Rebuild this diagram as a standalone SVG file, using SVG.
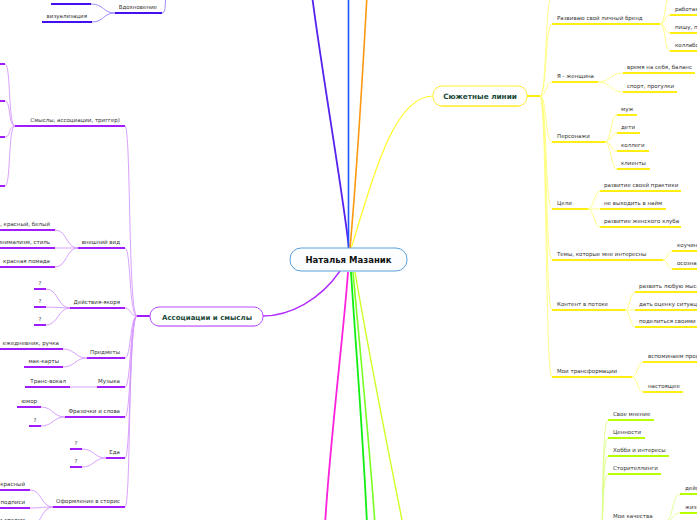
<svg xmlns="http://www.w3.org/2000/svg" width="697" height="520" viewBox="0 0 697 520">
<style>
.t{font-family:"DejaVu Sans",Verdana,sans-serif;font-size:5.5px;fill:#333}
.e{text-anchor:end}
.m{text-anchor:middle}
.h{font-family:"DejaVu Sans",Verdana,sans-serif;font-weight:bold;fill:#1c4a3a;text-anchor:middle}
.c{fill:none;stroke-width:0.9}
.u{fill:none;stroke-width:2}
.cv{stroke:#d596ff}.uv{stroke:#a01cff}
.cy{stroke:#ffff7a}.uy{stroke:#ffee11}
.cg{stroke:#ddff88}.ug{stroke:#b8ff00}
.ci{stroke:#8f7fff}.ui{stroke:#4411ee}
.main{fill:none}
</style>
<rect width="697" height="520" fill="#fff"/>
<g id="connectors">
<path class="main" d="M349,249 C344,200 320,60 312,-5" stroke="#5522ee" stroke-width="1.8"/>
<path class="main" d="M348.5,249 L348.5,-5" stroke="#2255ff" stroke-width="1.6"/>
<path class="main" d="M350,249 C356,180 364,50 367,-5" stroke="#ff9911" stroke-width="1.6"/>
<path class="main" d="M351,249 C375,170 395,96 433,96" stroke="#ffff22" stroke-width="1.2"/>
<path class="main" d="M340,271 C320,300 290,316 263,316" stroke="#b22cff" stroke-width="1.4"/>
<path class="main" d="M348,272 C344,330 330,440 325,525" stroke="#ff22dd" stroke-width="1.8"/>
<path class="main" d="M351,272 C356,350 364,450 367,525" stroke="#11ee11" stroke-width="1.8"/>
<path class="main" d="M353,272 C360,350 370,450 375,525" stroke="#77ff22" stroke-width="1.6"/>
<path class="main" d="M355,272 C370,360 390,460 403,525" stroke="#ccff22" stroke-width="1.4"/>
<!-- Вдохновение -->
<path class="c ci" d="M162,13 C167,13 164,0 167,-8"/>
<path class="c ci" d="M115,13 C103,13 104,22 92,22"/>
<path class="c ci" d="M115,13 C103,13 104,4 91,4"/>
<!-- Ассоциации trunk -->
<path class="u uv" d="M150,316 L137,316"/>
<path class="c cv" d="M137,316 C128,316 131,126 125,126"/>
<path class="c cv" d="M137,316 C129,316 131,248 125,248"/>
<path class="c cv" d="M137,316 C130,316 131,308 125,308"/>
<path class="c cv" d="M137,316 C130,316 131,358 125,358"/>
<path class="c cv" d="M137,316 C130,316 131,387 125,387"/>
<path class="c cv" d="M137,316 C130,316 131,417 125,417"/>
<path class="c cv" d="M137,316 C129,316 131,458 125,458"/>
<path class="c cv" d="M137,316 C128,316 131,507 125,507"/>
<path class="c cv" d="M15,126 C8,126 11,64 5,64"/>
<path class="c cv" d="M15,126 C8,126 11,101 5,101"/>
<path class="c cv" d="M15,126 C8,126 11,137 5,137"/>
<path class="c cv" d="M15,126 C8,126 11,186 5,186"/>
<path class="c cv" d="M78,248 C66,248 67,230 55,230"/>
<path class="c cv" d="M78,248 L55,248"/>
<path class="c cv" d="M78,248 C66,248 67,267 55,267"/>
<path class="c cv" d="M70,308 C58,308 58,289 46,289"/>
<path class="c cv" d="M70,308 L46,307"/>
<path class="c cv" d="M70,308 C58,308 58,325 46,325"/>
<path class="c cv" d="M87,358 C75,358 75,349 63,349"/>
<path class="c cv" d="M87,358 C75,358 75,367 63,367"/>
<path class="c cv" d="M97,387 L70,387"/>
<path class="c cv" d="M65,417 C53,417 53,407 41,407"/>
<path class="c cv" d="M65,417 C53,417 53,426 41,426"/>
<path class="c cv" d="M106,458 C94,458 94,449 82,449"/>
<path class="c cv" d="M106,458 C94,458 94,467 82,467"/>
<path class="c cv" d="M53,507 C41,507 42,490 30,490"/>
<path class="c cv" d="M53,507 C41,507 42,508 30,508"/>
<path class="c cv" d="M53,507 C41,507 42,526 30,526"/>
<!-- Сюжетные trunk -->
<path class="u uy" d="M527,96 L540,96"/>
<path class="c cy" d="M540,96 C547,96 545,-5 552,-5"/>
<path class="c cy" d="M540,96 C547,96 545,24 552,24"/>
<path class="c cy" d="M540,96 C547,96 545,82 552,82"/>
<path class="c cy" d="M540,96 C547,96 545,142 552,142"/>
<path class="c cy" d="M540,96 C547,96 545,209 552,209"/>
<path class="c cy" d="M540,96 C547,96 545,260 552,260"/>
<path class="c cy" d="M540,96 C547,96 545,310 552,310"/>
<path class="c cy" d="M540,96 C547,96 545,377 552,377"/>
<path class="c cy" d="M660,24 C666,24 664,-3 670,-3"/>
<path class="c cy" d="M660,24 C666,24 664,15 670,15"/>
<path class="c cy" d="M660,24 C666,24 664,33 670,33"/>
<path class="c cy" d="M660,24 C666,24 664,51 670,51"/>
<path class="c cy" d="M598,82 C611,82 610,73 623,73"/>
<path class="c cy" d="M598,82 C611,82 610,92 623,92"/>
<path class="c cy" d="M605,142 C611,142 611,115 617,115"/>
<path class="c cy" d="M605,142 C611,142 611,133 617,133"/>
<path class="c cy" d="M605,142 C611,142 611,151 617,151"/>
<path class="c cy" d="M605,142 C611,142 611,169 617,169"/>
<path class="c cy" d="M588,209 C594,209 594,191 600,191"/>
<path class="c cy" d="M588,209 L600,209"/>
<path class="c cy" d="M588,209 C594,209 594,227 600,227"/>
<path class="c cy" d="M663,260 C668,260 667,251 672,251"/>
<path class="c cy" d="M663,260 C668,260 667,269 672,269"/>
<path class="c cy" d="M625,310 C630,310 630,292 635,292"/>
<path class="c cy" d="M625,310 L635,310"/>
<path class="c cy" d="M625,310 C630,310 630,327 635,327"/>
<path class="c cy" d="M632,377 C638,377 637,362 643,362"/>
<path class="c cy" d="M632,377 C638,377 637,392 643,392"/>
<!-- green branch -->
<path class="c cg" d="M600,545 C604,545 601,420 608,420"/>
<path class="c cg" d="M600,545 C604,545 601,438 608,438"/>
<path class="c cg" d="M600,545 C604,545 601,456 608,456"/>
<path class="c cg" d="M600,545 C604,545 601,474 608,474"/>
<path class="c cg" d="M600,545 C604,545 601,522 608,522"/>
<path class="c cg" d="M665,522 C673,522 672,494 680,494"/>
<path class="c cg" d="M665,522 C673,522 672,513 680,513"/>
</g>
<g id="center">
<rect x="290" y="248" width="117" height="23" rx="11" fill="#fbfdff" stroke="#5aa0dd" stroke-width="1"/>
<text x="348.5" y="263" class="h" style="font-size:8.5px;fill:#111">Наталья Мазаник</text>
</g>
<g id="vdohnovenie">
<path class="u ui" d="M115,13 L162,13"/>
<text x="157" y="9" class="t e">Вдохновение</text>
<path class="u ui" d="M51,4 L91,4"/>
<path class="u ui" d="M42,22 L92,22"/>
<text x="87" y="18" class="t e">визуализация</text>
</g>
<g id="associations">
<rect x="150" y="307" width="113" height="19" rx="9" fill="#fff" stroke="#b44cff" stroke-width="1"/>
<path d="M158,326.3 L255,326.3" stroke="#d590ff" stroke-width="1.5"/>
<text x="207" y="320" class="h" style="font-size:7px">Ассоциации и смыслы</text>
</g>
<g id="smysly">
<path class="u uv" d="M15,126 L125,126"/>
<text x="120" y="122" class="t e">Смыслы, ассоциации, триггер)</text>
<path class="u uv" d="M-10,64 L5,64 M-10,101 L5,101 M-10,137 L5,137 M-10,186 L5,186"/>
</g>
<g id="vneshniy">
<path class="u uv" d="M78,248 L125,248"/>
<text x="120" y="244" class="t e">внешний вид</text>
<path class="u uv" d="M-5,230 L55,230 M-5,248 L55,248 M-5,267 L55,267"/>
<text x="50" y="226" class="t e">, красный, белый</text>
<text x="50" y="244" class="t e">минимализм, стиль</text>
<text x="50" y="263" class="t e">красная помада</text>
</g>
<g id="deystviya">
<path class="u uv" d="M70,308 L125,308"/>
<text x="120" y="304" class="t e">Действия-якоря</text>
<path class="u uv" d="M34,289 L46,289 M34,307 L46,307 M34,325 L46,325"/>
<text x="40" y="285" class="t m">?</text>
<text x="40" y="303" class="t m">?</text>
<text x="40" y="321" class="t m">?</text>
</g>
<g id="predmety">
<path class="u uv" d="M87,358 L125,358"/>
<text x="120" y="354" class="t e">Предметы</text>
<path class="u uv" d="M-5,349 L63,349 M24,367 L63,367"/>
<text x="59" y="345" class="t e">ежедневник, ручка</text>
<text x="59" y="363" class="t e">мак-карты</text>
</g>
<g id="muzyka">
<path class="u uv" d="M97,387 L125,387"/>
<text x="120" y="383" class="t e">Музыка</text>
<path class="u uv" d="M25,387 L70,387"/>
<text x="66" y="383" class="t e">Транс-вокал</text>
</g>
<g id="frazochki">
<path class="u uv" d="M65,417 L125,417"/>
<text x="120" y="413" class="t e">Фразочки и слова</text>
<path class="u uv" d="M17,407 L41,407 M29,426 L41,426"/>
<text x="37" y="403" class="t e">юмор</text>
<text x="35" y="422" class="t m">?</text>
</g>
<g id="eda">
<path class="u uv" d="M106,458 L125,458"/>
<text x="120" y="454" class="t e">Еда</text>
<path class="u uv" d="M70,449 L82,449 M70,467 L82,467"/>
<text x="76" y="445" class="t m">?</text>
<text x="76" y="463" class="t m">?</text>
</g>
<g id="oformlenie">
<path class="u uv" d="M53,507 L125,507"/>
<text x="120" y="503" class="t e">Оформление в сторис</text>
<path class="u uv" d="M-5,490 L30,490 M-5,508 L30,508 M-5,526 L30,526"/>
<text x="25" y="486" class="t e">красный</text>
<text x="25" y="504" class="t e">подписи</text>
<text x="25" y="522" class="t e">и стилем</text>
</g>
<g id="syuzhet">
<rect x="433" y="86" width="94" height="20" rx="9" fill="#fff" stroke="#ffee33" stroke-width="1"/>
<path d="M441,106.3 L519,106.3" stroke="#ffee44" stroke-width="1.5"/>
<text x="480" y="99" class="h" style="font-size:7.3px">Сюжетные линии</text>
<path class="u uy" d="M552,-5 L600,-5"/>
</g>
<g id="brend">
<path class="u uy" d="M552,24 L660,24"/>
<text x="557" y="20" class="t">Развиваю свой личный бренд</text>
<path class="u uy" d="M670,-3 L710,-3 M670,15 L710,15 M670,33 L710,33 M670,51 L710,51"/>
<text x="675" y="11" class="t">работаю</text>
<text x="675" y="29" class="t">пишу, посты</text>
<text x="675" y="47" class="t">коллаборации</text>
</g>
<g id="zhenshchina">
<path class="u uy" d="M552,82 L598,82"/>
<text x="557" y="78" class="t">Я - женщина</text>
<path class="u uy" d="M623,73 L695,73 M623,92 L677,92"/>
<text x="627" y="69" class="t">время на себя, баланс</text>
<text x="627" y="88" class="t">спорт, прогулки</text>
</g>
<g id="personazhi">
<path class="u uy" d="M552,142 L605,142"/>
<text x="557" y="138" class="t">Персонажи</text>
<path class="u uy" d="M617,115 L637,115 M617,133 L640,133 M617,151 L649,151 M617,169 L650,169"/>
<text x="621" y="111" class="t">муж</text>
<text x="621" y="129" class="t">дети</text>
<text x="621" y="147" class="t">коллеги</text>
<text x="621" y="165" class="t">клиенты</text>
</g>
<g id="tseli">
<path class="u uy" d="M552,209 L588,209"/>
<text x="557" y="205" class="t">Цели</text>
<path class="u uy" d="M600,191 L681,191 M600,209 L666,209 M600,227 L681,227"/>
<text x="604" y="187" class="t">развитие своей практики</text>
<text x="604" y="205" class="t">не выходить в найм</text>
<text x="604" y="223" class="t">развитие женского клуба</text>
</g>
<g id="temy">
<path class="u uy" d="M552,260 L663,260"/>
<text x="557" y="256" class="t">Темы, которые мне интересны</text>
<path class="u uy" d="M672,251 L710,251 M672,269 L710,269"/>
<text x="677" y="247" class="t">коучинг</text>
<text x="677" y="265" class="t">осознанность</text>
</g>
<g id="kontent">
<path class="u uy" d="M552,310 L625,310"/>
<text x="557" y="306" class="t">Контент в потоке</text>
<path class="u uy" d="M635,292 L710,292 M635,310 L710,310 M635,327 L710,327"/>
<text x="639" y="288" class="t">развить любую мысль</text>
<text x="639" y="306" class="t">дать оценку ситуации</text>
<text x="639" y="323" class="t">поделиться своими знаниями</text>
</g>
<g id="transformatsii">
<path class="u uy" d="M552,377 L632,377"/>
<text x="557" y="373" class="t">Мои трансформации</text>
<path class="u uy" d="M643,362 L710,362 M643,392 L683,392"/>
<text x="648" y="358" class="t">вспоминаем прошлое</text>
<text x="648" y="388" class="t">настоящее</text>
</g>
<g id="green-branch">
<path class="u ug" d="M608,420 L654,420 M608,438 L645,438 M608,456 L669,456 M608,474 L661,474 M608,522 L665,522"/>
<text x="613" y="416" class="t">Свое мнение</text>
<text x="613" y="434" class="t">Ценности</text>
<text x="613" y="452" class="t">Хобби и интересы</text>
<text x="613" y="470" class="t">Сторителлинги</text>
<text x="613" y="518" class="t">Мои качества</text>
<path class="u ug" d="M680,494 L710,494 M680,513 L710,513"/>
<text x="685" y="490" class="t">действия</text>
<text x="685" y="509" class="t">жизнь</text>
</g>
</svg>
